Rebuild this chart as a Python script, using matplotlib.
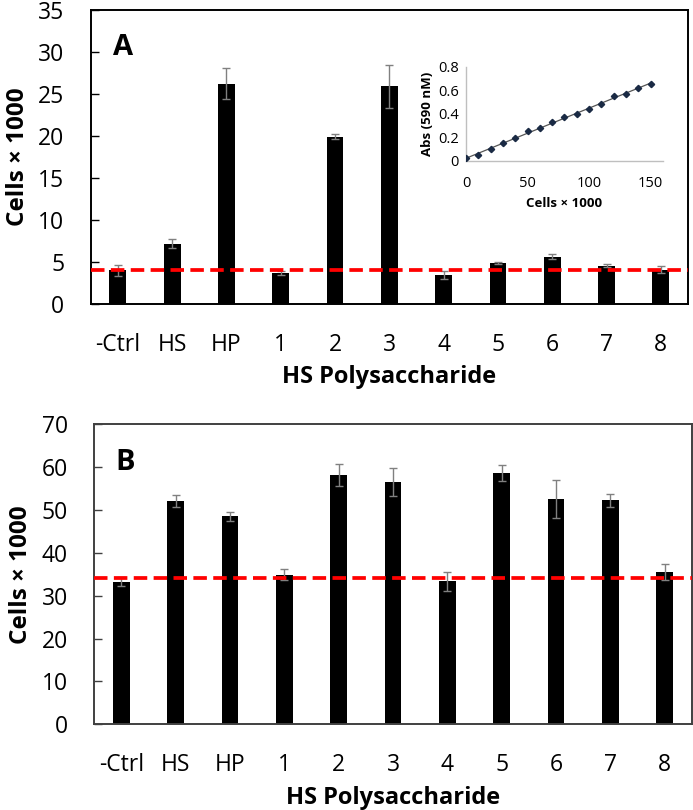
import numpy as np
import matplotlib
matplotlib.use("Agg")
import matplotlib.pyplot as plt

plt.rcParams['font.family'] = ['Open Sans', 'DejaVu Sans']

categories = ['-Ctrl', 'HS', 'HP', '1', '2', '3', '4', '5', '6', '7', '8']

a_values = [4.0, 7.2, 26.2, 3.7, 19.9, 25.9, 3.45, 4.9, 5.6, 4.55, 4.1]
a_errors = [0.7, 0.5, 1.85, 0.25, 0.3, 2.6, 0.45, 0.1, 0.3, 0.2, 0.4]
a_baseline = 4.1

b_values = [33.3, 52.1, 48.5, 34.9, 58.1, 56.5, 33.4, 58.6, 52.6, 52.3, 35.5]
b_errors = [1.0, 1.4, 1.0, 1.3, 2.6, 3.2, 2.2, 1.8, 4.5, 1.5, 1.9]
b_baseline = 34.1

inset_x = [0, 10, 20, 30, 40, 50, 60, 70, 80, 90, 100, 110, 120, 130, 140, 150]
inset_y = [0.02, 0.05, 0.10, 0.15, 0.19, 0.25, 0.28, 0.33, 0.37, 0.40, 0.44, 0.48, 0.55, 0.57, 0.62, 0.65]

fig = plt.figure(figsize=(6.93, 8.10), dpi=100)

def panel(rect, values, errors, baseline, ylim, yticks, letter, letter_pos, spine_color):
    ax = fig.add_axes(rect)
    x = np.arange(len(categories))
    ax.bar(x, values, width=0.31, color='black', zorder=2)
    ax.errorbar(x, values, yerr=errors, fmt='none', ecolor='#808080',
                elinewidth=1.0, capsize=2.8, capthick=1.0, zorder=3)
    ax.axhline(baseline, color='#ff0000', lw=2.7, ls=(0, (3.6, 1.7)), zorder=4)
    ax.set_xlim(-0.5, len(categories) - 0.5)
    ax.set_ylim(*ylim)
    ax.set_yticks(yticks)
    ax.set_xticks(x)
    ax.set_xticklabels(categories)
    ax.tick_params(axis='x', length=0, pad=21, labelsize=16.5)
    ax.tick_params(axis='y', direction='in', length=6, width=1, color=spine_color,
                   labelsize=16.5, pad=19)
    for s in ax.spines.values():
        s.set_color(spine_color)
        s.set_linewidth(1.4)
    ax.set_ylabel('Cells × 1000', fontsize=17.5, fontweight='bold', labelpad=6)
    ax.set_xlabel('HS Polysaccharide', fontsize=17, fontweight='bold', labelpad=6)
    ax.text(letter_pos[0], letter_pos[1], letter, transform=ax.transAxes, fontsize=21,
            fontweight='bold', ha='center', va='center')
    return ax

axA = panel([0.1309, 0.6247, 0.8619, 0.363], a_values, a_errors, a_baseline,
            (0, 35), range(0, 36, 5), 'A', (0.054, 0.874), 'black')
axB = panel([0.1361, 0.1058, 0.862, 0.3704], b_values, b_errors, b_baseline,
            (0, 70), range(0, 71, 10), 'B', (0.051, 0.871), '#404040')

# inset calibration curve
axi = fig.add_axes([0.6724, 0.8016, 0.2843, 0.1161])
coef = np.polyfit(inset_x, inset_y, 1)
xx = np.array([0, 150])
axi.plot(xx, np.polyval(coef, xx), color='#555555', lw=0.9, zorder=2)
axi.plot(inset_x, inset_y, ls='none', marker='D', ms=3.2, color='#1a2a44', zorder=3)
axi.set_xlim(0, 160)
axi.set_ylim(0, 0.8)
axi.set_xticks([0, 50, 100, 150])
axi.set_yticks([0, 0.2, 0.4, 0.6, 0.8])
axi.set_yticklabels(['0', '0.2', '0.4', '0.6', '0.8'])
axi.tick_params(axis='x', length=0, labelsize=10.5, pad=11)
axi.tick_params(axis='y', length=0, labelsize=10.5, pad=5)
for s in ['top', 'right']:
    axi.spines[s].set_visible(False)
for s in ['left', 'bottom']:
    axi.spines[s].set_color('#bfbfbf')
    axi.spines[s].set_linewidth(1.0)
axi.patch.set_alpha(0)
axi.set_xlabel('Cells × 1000', fontsize=9.5, fontweight='bold', labelpad=4)
axi.set_ylabel('Abs (590 nM)', fontsize=9.5, fontweight='bold', labelpad=3)

fig.savefig('out.png', dpi=100)
